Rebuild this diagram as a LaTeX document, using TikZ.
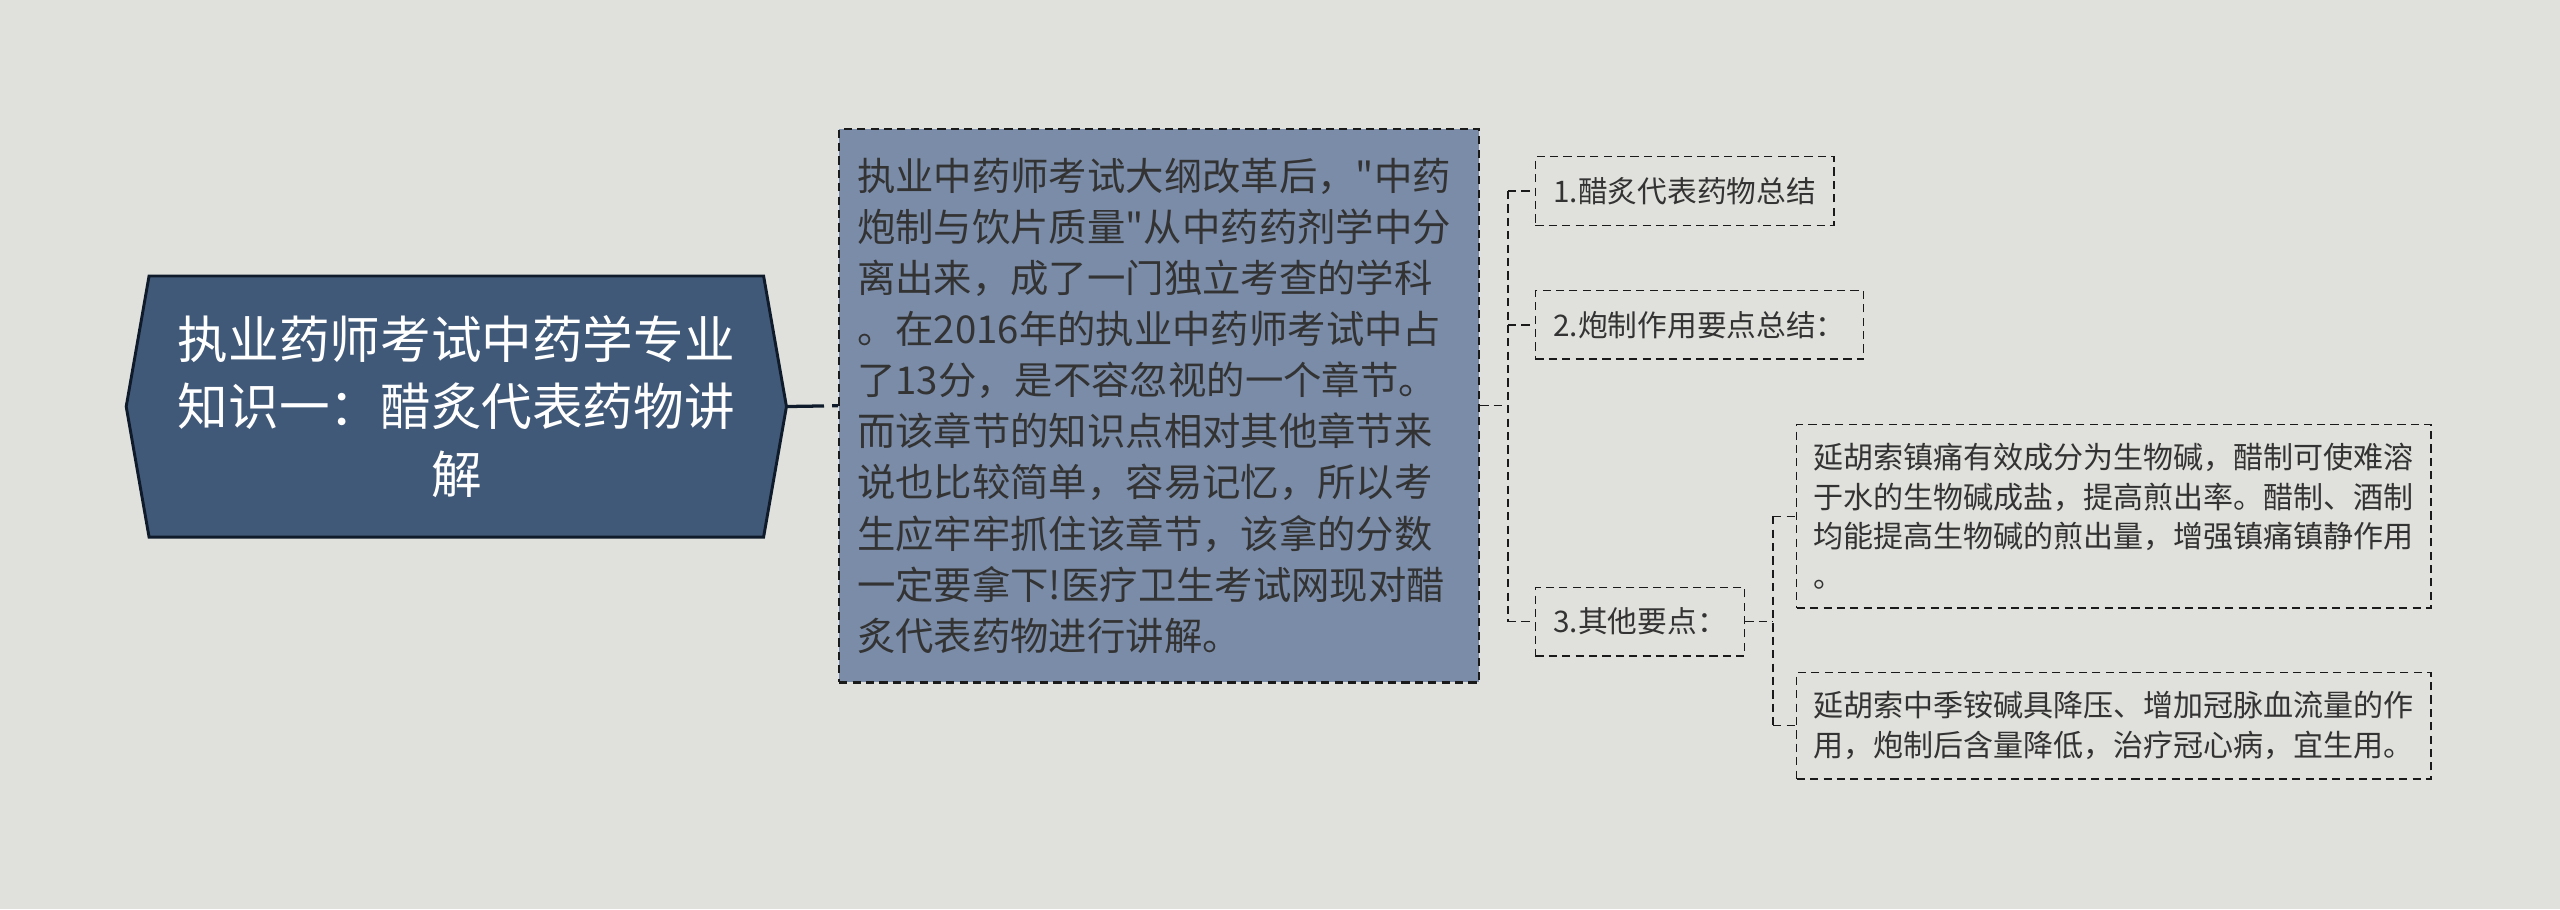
\documentclass[tikz,border=0pt]{standalone}
\usepackage{fontspec}
\setmainfont{Noto Sans CJK SC}[Ligatures=TeXOff]
\usetikzlibrary{backgrounds}
\definecolor{bgcol}{HTML}{E0E1DC}
\definecolor{rootfill}{HTML}{415978}
\definecolor{rootline}{HTML}{0F1B2A}
\definecolor{mainfill}{HTML}{7A8CA8}
\definecolor{inkcol}{HTML}{333333}
\definecolor{dashcol}{HTML}{1A1A1A}

\begin{document}
\begin{tikzpicture}[x=1pt,y=-1pt,
    rootnode/.style={minimum width=376pt, minimum height=159.5pt, inner sep=0pt,
      text width=360pt, align=center, text=white, font=\fontsize{31}{41.5}\selectfont},
    rootshape/.style={fill=rootfill, draw=rootline, line width=1.8pt, line join=miter},
    mainnode/.style={fill=mainfill, draw=dashcol, line width=1.4pt, dash pattern=on 5pt off 3.2pt,
      minimum width=392pt, minimum height=339pt, inner xsep=11pt, inner ysep=0pt,
      text width=370pt, align=left, text=inkcol, font=\fontsize{23.5}{31.3}\selectfont},
    subnode/.style={draw=dashcol, line width=0.9pt, dash pattern=on 5pt off 3.2pt,
      minimum height=42pt, inner xsep=11pt, inner ysep=0pt, anchor=west,
      text=inkcol, font=\fontsize{18.2}{24.2}\selectfont},
    leafnode/.style={draw=dashcol, line width=0.9pt, dash pattern=on 5pt off 3.2pt,
      minimum width=388.5pt, inner xsep=10pt, inner ysep=0pt,
      text width=368.5pt, align=left, text=inkcol, font=\fontsize{18.4}{24.3}\selectfont},
    link/.style={draw=dashcol, line width=0.9pt, dash pattern=on 5pt off 3.2pt},
    rootlink/.style={draw=rootline, line width=2pt, dash pattern=on 23pt off 5pt}]
  \useasboundingbox (0,0) rectangle (1568,557);

  % centre topic
  \node[rootnode] (root) at (279.5,249) {执业药师考试中药学专业\\知识一：醋炙代表药物讲\\解};
  \coordinate (rootW) at ([xshift=-14pt]root.west);
  \coordinate (rootE) at ([xshift=14pt]root.east);
  \begin{scope}[on background layer]
    \fill[bgcol] (0,0) rectangle (1568,557);
    \filldraw[rootshape] (rootW) -- (root.north west) -- (root.north east) -- (rootE)
      -- (root.south east) -- (root.south west) -- cycle;
  \end{scope}

  \node[mainnode] (main) at (710,248.5) {执业中药师考试大纲改革后，"中药\\炮制与饮片质量"从中药药剂学中分\\离出来，成了一门独立考查的学科\\。在2016年的执业中药师考试中占\\了13分，是不容忽视的一个章节。\\而该章节的知识点相对其他章节来\\说也比较简单，容易记忆，所以考\\生应牢牢抓住该章节，该拿的分数\\一定要拿下!医疗卫生考试网现对醋\\炙代表药物进行讲解。};

  \node[subnode] (b1) at (940,117) {1.醋炙代表药物总结};
  \node[subnode] (b2) at (940,199) {2.炮制作用要点总结：};
  \node[subnode] (b3) at (940,380.7) {3.其他要点：};

  \node[leafnode, minimum height=112.5pt] (c1) at (1294.75,316.25) {延胡索镇痛有效成分为生物碱，醋制可使难溶\\于水的生物碱成盐，提高煎出率。醋制、酒制\\均能提高生物碱的煎出量，增强镇痛镇静作用\\。};
  \node[leafnode, minimum height=65pt] (c2) at (1294.75,444.5) {延胡索中季铵碱具降压、增加冠脉血流量的作\\用，炮制后含量降低，治疗冠心病，宜生用。};

  % connectors
  \draw[rootlink] (rootE) -- (main.west);
  \coordinate (fork1) at ([xshift=17pt]main.east);
  \draw[link] (main.east) -- (fork1);
  \draw[link] (fork1 |- b1.west) -- (fork1 |- b3.west);
  \foreach \n in {b1,b2,b3}
    \draw[link] (fork1 |- \n.west) -- (\n.west);
  \coordinate (fork2) at ([xshift=17pt]b3.east);
  \draw[link] (b3.east) -- (fork2);
  \draw[link] (fork2 |- c1.west) -- (fork2 |- c2.west);
  \foreach \n in {c1,c2}
    \draw[link] (fork2 |- \n.west) -- (\n.west);
\end{tikzpicture}
\end{document}
